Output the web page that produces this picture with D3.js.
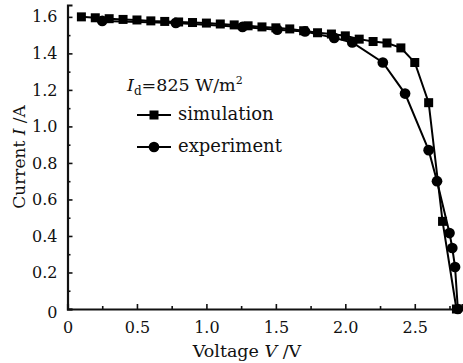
<!DOCTYPE html>
<html>
<head>
<meta charset="utf-8">
<script src="https://cdn.jsdelivr.net/npm/d3@7"></script>
<style>
  html, body { margin: 0; padding: 0; background: #fff; }
  svg { display: block; }
  text { font-family: "DejaVu Serif", "Liberation Serif", serif; fill: #111; }
</style>
</head>
<body>
<svg id="chart" width="463" height="363"></svg>
<script>
const simVoltage = [0.1, 0.2, 0.3, 0.4, 0.5, 0.6, 0.7, 0.8, 0.9, 1.0, 1.1, 1.2, 1.3, 1.4,
  1.5, 1.6, 1.7, 1.8, 1.9, 2.0, 2.1, 2.2, 2.3, 2.4, 2.5, 2.6, 2.7, 2.8];
const simCurrent = [1.600, 1.595, 1.590, 1.586, 1.583, 1.578, 1.575, 1.572, 1.569, 1.566, 1.561, 1.556,
  1.551, 1.545, 1.540, 1.534, 1.524, 1.513, 1.506, 1.496, 1.478, 1.465, 1.457, 1.430, 1.350, 1.130, 0.480, 0];
const expVoltage = [0.25, 0.78, 1.26, 1.51, 1.71, 1.92, 2.05, 2.27, 2.43, 2.60, 2.66, 2.75, 2.77, 2.79, 2.81];
const expCurrent = [1.578, 1.567, 1.545, 1.530, 1.520, 1.485, 1.460, 1.350, 1.180, 0.870, 0.700, 0.416, 0.334, 0.230, 0];
const xMajor = [0, 0.5, 1.0, 1.5, 2.0, 2.5];
const xMinor = [0.25, 0.75, 1.25, 1.75, 2.25, 2.75];
const yMajor = [0, 0.2, 0.4, 0.6, 0.8, 1.0, 1.2, 1.4, 1.6];
const yMinor = [0.1, 0.3, 0.5, 0.7, 0.9, 1.1, 1.3, 1.5];

const svg = d3.select("#chart");
const margin = { left: 67.5, right: 1, top: 5, bottom: 54 };
const W = 463, H = 363;

const x = d3.scaleLinear().domain([0, 2.84]).range([margin.left, W - margin.right]);
const y = d3.scaleLinear().domain([0, 1.665]).range([H - margin.bottom, margin.top]);

const simData = simVoltage.map((v, i) => ({ v, c: simCurrent[i] }));
const expData = expVoltage.map((v, i) => ({ v, c: expCurrent[i] }));

// axes
const gx = svg.append("g").attr("transform", `translate(0,${y(0)})`);
gx.call(d3.axisBottom(x).tickValues(xMajor).tickSize(-5).tickPadding(10)
  .tickFormat(d => d === 0 ? "0" : d3.format(".1f")(d)));
gx.append("g").call(d3.axisBottom(x).tickValues(xMinor).tickSize(-3).tickFormat(""))
  .call(g => g.select(".domain").remove());
gx.selectAll("text").attr("font-size", 16).attr("dy", "0.9em");

const gy = svg.append("g").attr("transform", `translate(${x(0)},0)`);
gy.call(d3.axisLeft(y).tickValues(yMajor).tickSize(-5).tickPadding(10)
  .tickFormat(d => d === 0 ? "0" : d3.format(".1f")(d)));
gy.append("g").call(d3.axisLeft(y).tickValues(yMinor).tickSize(-3).tickFormat(""))
  .call(g => g.select(".domain").remove());
gy.selectAll("text").attr("font-size", 16);
gy.selectAll(".tick text").filter(d => d === 0).attr("dy", "0.55em");

svg.selectAll(".domain").attr("stroke", "#111").attr("stroke-width", 2.2);
svg.selectAll(".tick line").attr("stroke", "#111").attr("stroke-width", 1.6);
svg.selectAll(".tick text").attr("fill", "#111").attr("font-family", "DejaVu Serif");

// axis titles
const xt = svg.append("text").attr("x", 247).attr("y", 357).attr("text-anchor", "middle").attr("font-size", 17.5);
xt.append("tspan").text("Voltage ");
xt.append("tspan").attr("font-style", "italic").text("V");
xt.append("tspan").text(" /V");

const yt = svg.append("text").attr("transform", "translate(25,157) rotate(-90)")
  .attr("text-anchor", "middle").attr("font-size", 17);
yt.append("tspan").text("Current ");
yt.append("tspan").attr("font-style", "italic").text("I");
yt.append("tspan").text(" /A");

// lines
const line = d3.line().x(d => x(d.v)).y(d => y(d.c));
svg.append("path").datum(simData).attr("d", line).attr("fill", "none").attr("stroke", "#000").attr("stroke-width", 2);
svg.append("path").datum(expData).attr("d", line).attr("fill", "none").attr("stroke", "#000").attr("stroke-width", 2);

const sq = 9;
svg.append("g").selectAll("rect").data(simData).join("rect")
  .attr("x", d => x(d.v) - sq / 2).attr("y", d => y(d.c) - sq / 2)
  .attr("width", sq).attr("height", sq).attr("fill", "#000");

const dot = d3.symbol().type(d3.symbolCircle).size(90);
svg.append("g").selectAll("path").data(expData).join("path")
  .attr("transform", d => `translate(${x(d.v)},${y(d.c)})`)
  .attr("d", dot).attr("fill", "#000");

// legend
const lg = svg.append("g");
const t0 = lg.append("text").attr("x", 127).attr("y", 91).attr("font-size", 17.5);
t0.append("tspan").attr("font-style", "italic").text("I");
t0.append("tspan").attr("font-size", 12).attr("dy", 4).text("d");
t0.append("tspan").attr("dy", -4).text("=825 W/m");
t0.append("tspan").attr("font-size", 11).attr("dy", -7).text("2");

lg.append("line").attr("x1", 137).attr("x2", 171).attr("y1", 115).attr("y2", 115).attr("stroke", "#000").attr("stroke-width", 2);
lg.append("rect").attr("x", 154 - sq / 2).attr("y", 115 - sq / 2).attr("width", sq).attr("height", sq).attr("fill", "#000");
lg.append("text").attr("x", 178).attr("y", 120).attr("font-size", 18).text("simulation");

lg.append("line").attr("x1", 137).attr("x2", 171).attr("y1", 147).attr("y2", 147).attr("stroke", "#000").attr("stroke-width", 2);
lg.append("path").attr("transform", "translate(154,147)").attr("d", dot).attr("fill", "#000");
lg.append("text").attr("x", 178).attr("y", 152).attr("font-size", 18).text("experiment");
</script>
</body>
</html>
